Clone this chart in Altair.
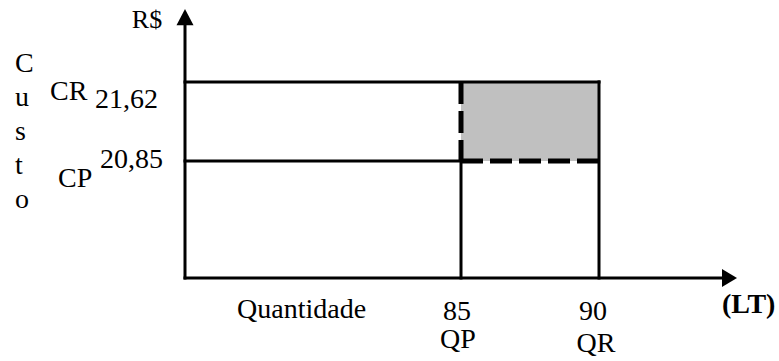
import altair as alt
import pandas as pd

# ---- data ----
qty_values = [85, 90]            # QP, QR
qty_labels = ["85", "90"]
qty_names = ["QP", "QR"]
cost_values = [20.85, 21.62]     # CP, CR
cost_labels = ["20,85", "21,62"]
cost_names = ["CP", "CR"]
axis_x_extent = [75, 95]         # drawn extent of the quantity axis
axis_y_extent = [19.71, 22.33]   # drawn extent of the cost axis

FONT = "Liberation Serif"
W, H = 552, 269

xs = alt.Scale(domain=axis_x_extent, nice=False, zero=False)
ys = alt.Scale(domain=axis_y_extent, nice=False, zero=False)

x0, x1 = axis_x_extent
y0, y1 = axis_y_extent
qp, qr = qty_values
cp, cr = cost_values


def seg(rows):
    return pd.DataFrame(rows, columns=["x", "x2", "y", "y2"])


def rule_layer(df, **mk):
    return alt.Chart(df).mark_rule(color="black", **mk).encode(
        x=alt.X("x:Q", scale=xs, axis=None),
        x2="x2:Q",
        y=alt.Y("y:Q", scale=ys, axis=None),
        y2="y2:Q",
    )


# shaded area between CP and CR, QP and QR
shade = alt.Chart(pd.DataFrame({"x": [qp], "x2": [qr], "y": [cp], "y2": [cr]})).mark_rect(
    color="#c0c0c0"
).encode(
    x=alt.X("x:Q", scale=xs, axis=None), x2="x2:Q",
    y=alt.Y("y:Q", scale=ys, axis=None), y2="y2:Q",
)

solid = rule_layer(
    seg([
        [x0, qr, cr, cr],      # CR horizontal
        [x0, qp, cp, cp],      # CP horizontal (solid part)
        [qr, qr, y0, cr],      # QR vertical
        [qp, qp, y0, cp],      # QP vertical (solid part)
    ]),
    strokeWidth=3, strokeCap="square",
)

dashed = rule_layer(
    seg([
        [qp, qr, cp, cp],
        [qp, qp, cr, cp],
    ]),
    strokeWidth=5, strokeDash=[22, 7],
)

axes = rule_layer(
    seg([
        [x0, x0, y0, y1 - 0.05],
        [x0, x1 - 0.3, y0, y0],
    ]),
    strokeWidth=3, strokeCap="square",
)

arrow_up = alt.Chart(pd.DataFrame({"x": [x0], "y": [y1]})).mark_point(
    shape="M0,0L-1,1.9L1,1.9Z", filled=True, color="black", size=289, opacity=1, strokeWidth=0
).encode(x=alt.X("x:Q", scale=xs, axis=None), y=alt.Y("y:Q", scale=ys, axis=None))

arrow_right = alt.Chart(pd.DataFrame({"x": [x1], "y": [y0]})).mark_point(
    shape="M0,0L-1.67,-1L-1.67,1Z", filled=True, color="black", size=324, opacity=1, strokeWidth=0
).encode(x=alt.X("x:Q", scale=xs, axis=None), y=alt.Y("y:Q", scale=ys, axis=None))

one = pd.DataFrame({"a": [0]})


def txt(text, x, y, size=28, align="left", dx=0, dy=0, **mk):
    return alt.Chart(one).mark_text(
        text=text, font=FONT, fontSize=size, align=align, baseline="alphabetic",
        color="black", dx=dx, dy=dy, **mk
    ).encode(x=x, y=y)


def xd(v):
    return alt.X(datum=v, scale=xs, axis=None)


def yd(v):
    return alt.Y(datum=v, scale=ys, axis=None)


texts = [
    txt("R$", alt.value(147 - 185), alt.value(28 - 9), size=26, align="center"),
    txt(list("Custo"), alt.value(15 - 185), alt.value(72 - 9), lineHeight=34),
    txt(cost_names[1], alt.value(50 - 185), yd(cr), dy=18),
    txt(cost_labels[1], alt.value(95 - 185), yd(cr), dy=26),
    txt(cost_names[0], alt.value(58 - 185), yd(cp), dy=26),
    txt(cost_labels[0], alt.value(100 - 185), yd(cp), dy=7),
    txt("Quantidade", alt.value(237 - 185), alt.value(318 - 9)),
    txt(qty_labels[0], xd(qp), alt.value(320 - 9), align="center", dx=-4),
    txt(qty_names[0], xd(qp), alt.value(348 - 9), align="center", dx=-3),
    txt(qty_labels[1], xd(qr), alt.value(320 - 9), align="center", dx=-6),
    txt(qty_names[1], xd(qr), alt.value(352 - 9), align="center", dx=-3),
    txt("(LT)", alt.value(722 - 185), alt.value(313 - 9), fontWeight="bold"),
]

chart = alt.layer(shade, solid, dashed, axes, arrow_up, arrow_right, *texts).properties(
    width=W, height=H,
    padding={"left": 185, "top": 9, "right": 779 - 185 - W, "bottom": 361 - 9 - H},
    autosize=alt.AutoSizeParams(type="none"),
    background="white",
).configure_view(stroke=None)

chart.save("out.html", embed_options={"renderer": "svg", "actions": False})
